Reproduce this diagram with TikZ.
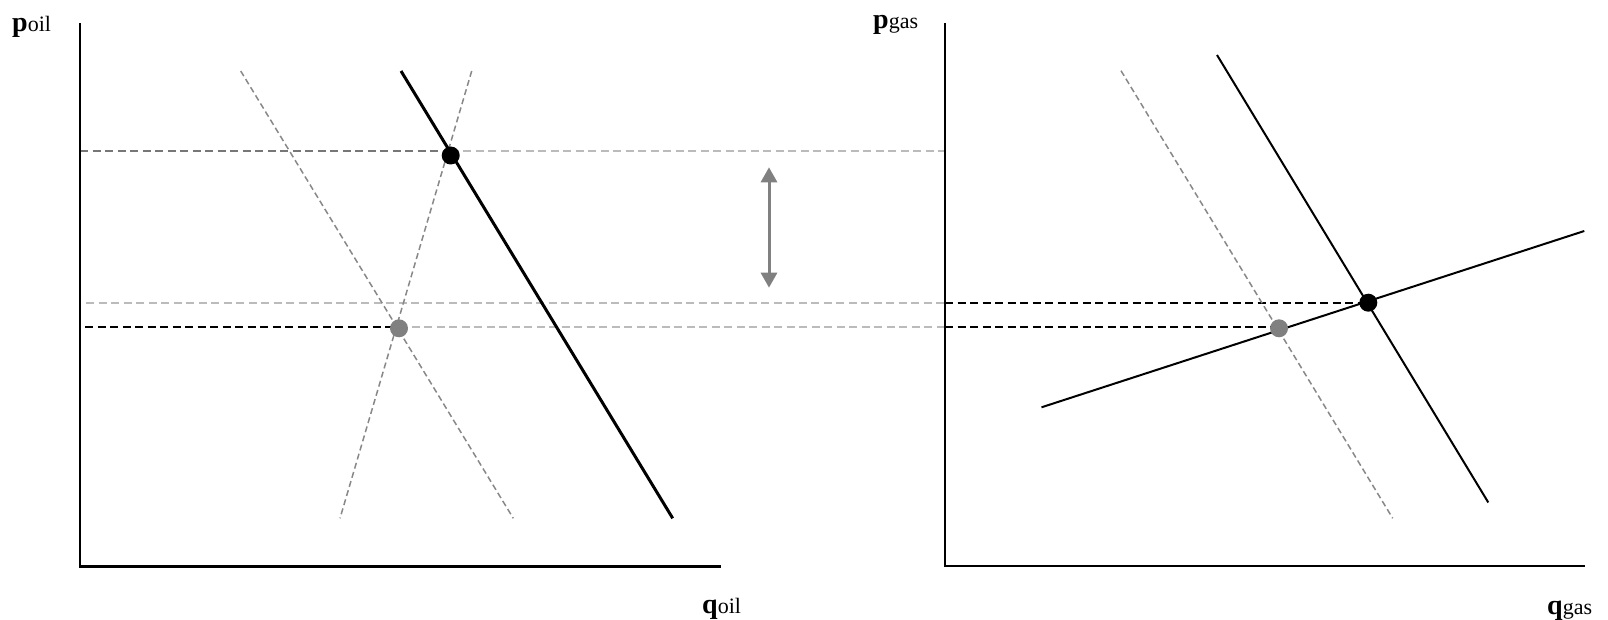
\documentclass[tikz,border=0pt]{standalone}
\usepackage{fontspec}
\setmainfont{Liberation Serif}
\usepackage{xcolor}
\usepackage{tikz}
\usetikzlibrary{positioning,arrows.meta}

\definecolor{guidedark}{RGB}{119,119,119}
\definecolor{guidelight}{RGB}{187,187,187}
\definecolor{shiftgray}{RGB}{136,136,136}
\definecolor{dotgray}{RGB}{128,128,128}
\newcommand{\axlab}[2]{{\fontsize{28}{30}\selectfont\bfseries #1}{\fontsize{22}{24}\selectfont #2}}

\begin{document}
\begin{tikzpicture}[x=1pt,y=-1pt,
      axis/.style={line width=2.5pt},
      curve/.style={line width=2pt},
      shifted/.style={line width=1.5pt,color=shiftgray,dash pattern=on 6pt off 3.5pt},
      guide/.style={line width=2pt,dash pattern=on 8pt off 4.5pt},
      dot/.style={circle,inner sep=0pt,minimum size=18pt},
      lbl/.style={inner sep=0pt,anchor=base west}]
      \useasboundingbox (0,0) rectangle (1608,620);
      % oil market
      \coordinate (oiltop) at (80,23);
      \coordinate (oilorig) at (80,566.7);
      \coordinate (oilend) at (720.7,566.7);
      \node[lbl] (poil) at (12,32) {\axlab{p}{oil}};
      \node[lbl] (qoil) at (702,613) {\axlab{q}{oil}};
      % gas market
      \coordinate (gastop) at (945,23);
      \coordinate (gasorig) at (945,566);
      \coordinate (gasend) at (1585,566);
      \node[lbl] (pgas) at (873,28.5) {\axlab{p}{gas}};
      \node[lbl] (qgas) at (1547,614) {\axlab{q}{gas}};
      % equilibria
      \coordinate (oilD0a) at (240.7,71); \coordinate (oilD0b) at (513.3,518.3);
      \coordinate (oilSa) at (471.7,71); \coordinate (oilSb) at (340,518.3);
      \coordinate (oilD1a) at (401,71); \coordinate (oilD1b) at (672.7,518.3);
      \coordinate (gasD0a) at (1121,70.7); \coordinate (gasD0b) at (1392.7,518.3);
      \coordinate (gasD1a) at (1217,55); \coordinate (gasD1b) at (1488.3,502.5);
      \coordinate (gasSa) at (1041.5,407.3); \coordinate (gasSb) at (1584.3,231);
      \coordinate (hi) at (80,151);
      \coordinate (mid) at (86,303);
      \coordinate (lo) at (85,326.7);
      \coordinate (oilE0) at (399,328.3);
      \coordinate (oilE1) at (450.7,155.5);
      \coordinate (gasE0) at (1279,328.3);
      \coordinate (gasE1) at (1368.3,302.7);
      % guides
      \draw[guide,guidedark] (hi) -- (hi -| oilE1);
      \draw[guide,guidelight] (hi -| oilE1) -- (hi -| gasorig);
      \draw[guide,guidelight] (mid) -- (mid -| gasorig);
      \draw[guide] (mid -| gasorig) -- (mid -| gasE1);
      \draw[guide] (lo) -- (lo -| oilE0);
      \draw[guide,guidelight] (lo -| oilE0) -- (lo -| gasorig);
      \draw[guide] (lo -| gasorig) -- (lo -| gasE0);
      % curves
      \draw[shifted] (oilD0a) -- (oilD0b);
      \draw[shifted] (oilSa) -- (oilSb);
      \draw[curve,line width=3pt] (oilD1a) -- (oilD1b);
      \draw[shifted] (gasD0a) -- (gasD0b);
      \draw[curve] (gasD1a) -- (gasD1b);
      \draw[curve] (gasSa) -- (gasSb);
      \draw[axis] (oiltop) -- (oilorig) -- (oilend);
      \draw[axis] (gastop) -- (gasorig) -- (gasend);
      \node[dot,fill=dotgray] (e0oil) at (oilE0) {};
      \node[dot,fill=black] (e1oil) at (oilE1) {};
      \node[dot,fill=dotgray] (e0gas) at (gasE0) {};
      \node[dot,fill=black] (e1gas) at (gasE1) {};
      % price gap
      \coordinate (gapa) at (769,167.3);
      \coordinate (gapb) at (769,287.7);
      \draw[{Triangle[width=16pt,length=15pt]}-{Triangle[width=16pt,length=15pt]},line width=3pt,dotgray] (gapa) -- (gapb);
    \end{tikzpicture}
\end{document}
